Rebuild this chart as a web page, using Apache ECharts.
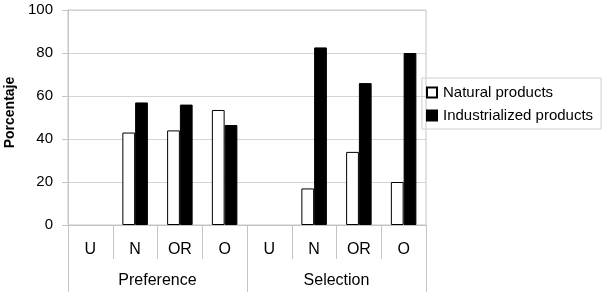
<!DOCTYPE html>
<html>
<head>
<meta charset="utf-8">
<script src="https://cdn.jsdelivr.net/npm/echarts@6/dist/echarts.min.js"></script>
<style>html,body{margin:0;padding:0;background:#fff}#c{width:603px;height:296px}</style>
</head>
<body>
<div id="c"></div>
<script>
var categories = ['U','N','OR','O','U','N','OR','O'];
var groups = ['Preference','Selection'];
var natural = [null, 43, 44, 53.5, null, 17, 34, 20];
var industrialized = [null, 57, 56, 46.5, null, 82.6, 66, 80];
var yTicks = {min: 0, max: 100, interval: 20};

var FONT = 'Liberation Sans';
var GRAY = '#c4c4c4';
var chart = echarts.init(document.getElementById('c'), null, {renderer: 'canvas'});
chart.setOption({
  animation: false,
  textStyle: {fontFamily: FONT},
  grid: {left: 68, right: 177, top: 10, bottom: 71, containLabel: false, outerBoundsMode: 'none',
         show: true, borderColor: GRAY, borderWidth: 1, backgroundColor: 'transparent'},
  legend: {
    orient: 'vertical', left: 422, top: 78,
    padding: [6, 8, 5, 4], itemGap: 6,
    itemWidth: 10, itemHeight: 10,
    borderColor: '#cfcfcf', borderWidth: 1,
    textStyle: {fontSize: 15, color: '#000', fontFamily: FONT, padding: [0, 0, 0, 1], lineHeight: 17},
    data: [
      {name: 'Natural products', icon: 'rect'},
      {name: 'Industrialized products', icon: 'rect'}
    ]
  },
  xAxis: [
    {
      type: 'category', data: categories, position: 'bottom', offset: 0,
      axisLine: {show: true, lineStyle: {color: GRAY}},
      axisTick: {show: true, interval: 0, length: 34, lineStyle: {color: GRAY}},
      axisLabel: {interval: 0, margin: 17, fontSize: 16, color: '#000', fontFamily: FONT},
      splitLine: {show: false}
    },
    {
      type: 'category', data: groups, position: 'bottom', offset: 0,
      axisLine: {show: false},
      axisTick: {show: true, interval: 0, length: 67, lineStyle: {color: GRAY}},
      axisLabel: {interval: 0, margin: 48, fontSize: 16, color: '#000', fontFamily: FONT},
      splitLine: {show: false}
    }
  ],
  yAxis: {
    type: 'value', min: yTicks.min, max: yTicks.max, interval: yTicks.interval,
    name: 'Porcentaje', nameLocation: 'middle', nameGap: 50, nameRotate: 90,
    nameTextStyle: {fontSize: 14, fontWeight: 'bold', color: '#000', fontFamily: FONT, padding: [0, 0, 0, 10]},
    axisLine: {show: true, lineStyle: {color: GRAY}},
    axisTick: {show: true, length: 6, lineStyle: {color: GRAY}},
    axisLabel: {margin: 15, fontSize: 15, color: '#000', fontFamily: FONT},
    splitLine: {show: true, lineStyle: {color: '#d4d4d4'}}
  },
  series: [
    {
      name: 'Natural products', type: 'bar', xAxisIndex: 0, data: natural,
      barGap: '0%', barCategoryGap: '43%',
      itemStyle: {color: '#fff', borderColor: '#000', borderWidth: 1}
    },
    {
      name: 'Industrialized products', type: 'bar', xAxisIndex: 0, data: industrialized,
      barGap: '0%', barCategoryGap: '43%',
      itemStyle: {color: '#000', borderColor: '#000', borderWidth: 1}
    }
  ]
});
</script>
</body>
</html>
